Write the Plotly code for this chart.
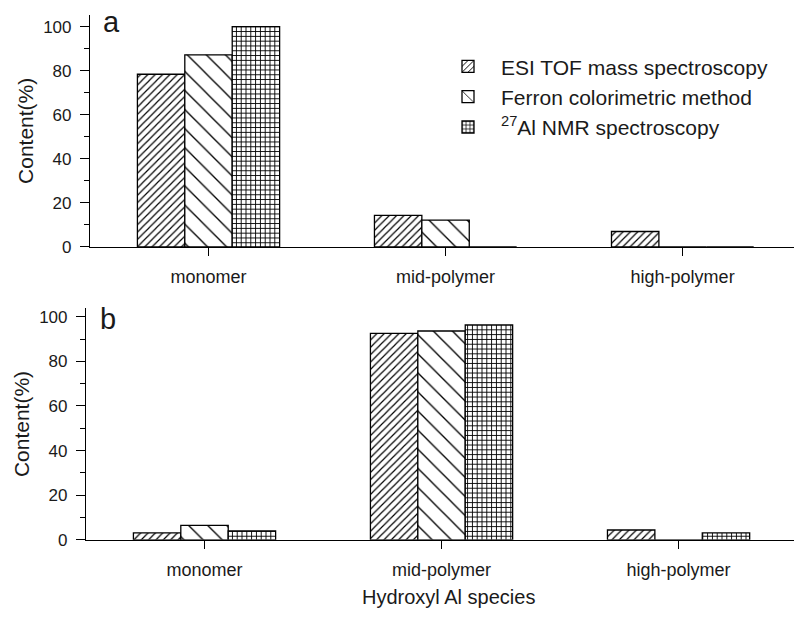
import plotly.graph_objects as go

categories = ["monomer", "mid-polymer", "high-polymer"]
methods = ["ESI TOF mass spectroscopy", "Ferron colorimetric method", "<sup>27</sup>Al NMR spectroscopy"]
a_esi = [78.4, 14.3, 7.0]
a_ferron = [87.2, 12.2, 0]
a_nmr = [100.0, 0, 0]
b_esi = [3.1, 92.5, 4.4]
b_ferron = [6.5, 93.6, 0]
b_nmr = [4.0, 96.3, 3.1]
y_ticks = [0, 20, 40, 60, 80, 100]

W, H = 794, 617
FONT = "Liberation Sans, Arial, sans-serif"
TXT = "#1a1a1a"

patterns = [
    dict(shape="/", size=5.2, solidity=0.23, fgcolor="black", bgcolor="white", fgopacity=1, fillmode="replace"),
    dict(shape="\\", size=13.5, solidity=0.1, fgcolor="black", bgcolor="white", fgopacity=1, fillmode="replace"),
    dict(shape="+", size=4.8, solidity=0.34, fgcolor="black", bgcolor="white", fgopacity=1, fillmode="replace"),
]

fig = go.Figure()
for i, (vals, name) in enumerate(zip([a_esi, a_ferron, a_nmr], methods)):
    fig.add_trace(go.Bar(x=categories, y=vals, name=name, xaxis="x", yaxis="y",
                         marker=dict(color="white", pattern=patterns[i],
                                     line=dict(color="black", width=1.3)),
                         legendgroup=str(i), showlegend=True))
for i, (vals, name) in enumerate(zip([b_esi, b_ferron, b_nmr], methods)):
    fig.add_trace(go.Bar(x=categories, y=vals, name=name, xaxis="x2", yaxis="y2",
                         marker=dict(color="white", pattern=patterns[i],
                                     line=dict(color="black", width=1.3)),
                         legendgroup=str(i), showlegend=False))

def px_x(p):
    return p / W

def px_y(p):
    return 1 - p / H

xcommon = dict(type="category", showline=True, linecolor="black", linewidth=1.2,
               ticks="outside", ticklen=8, tickcolor="black", tickwidth=1.2,
               tickfont=dict(family=FONT, size=18, color=TXT), showgrid=False,
               zeroline=False, ticklabelstandoff=5)
ycommon = dict(showline=True, linecolor="black", linewidth=1.2,
               ticks="outside", ticklen=9, tickcolor="black", tickwidth=1.2,
               tickvals=y_ticks, tickfont=dict(family=FONT, size=17, color=TXT),
               showgrid=False, zeroline=False, ticklabelstandoff=5,
               minor=dict(dtick=10, ticks="outside", ticklen=5, tickcolor="black", tickwidth=1.2),
               title=dict(text="Content(%)", font=dict(family=FONT, size=21, color=TXT), standoff=3))

fig.update_layout(
    width=W, height=H, margin=dict(l=0, r=0, t=0, b=0),
    paper_bgcolor="white", plot_bgcolor="white",
    barmode="group", bargap=0.4, bargroupgap=0,
    xaxis=dict(domain=[px_x(90), 1], anchor="y", range=[-0.5, 2.47], **xcommon),
    yaxis=dict(domain=[px_y(251), px_y(15)], anchor="x", range=[0, 105.4], **ycommon),
    xaxis2=dict(domain=[px_x(86), 1], anchor="y2", range=[-0.5, 2.487], **xcommon),
    yaxis2=dict(domain=[px_y(548.7), px_y(313.3)], anchor="x2", range=[0, 103.8], **ycommon),
    legend=dict(x=px_x(435), y=px_y(47), xanchor="left", yanchor="top",
                bgcolor="rgba(0,0,0,0)", itemwidth=56,
                font=dict(family=FONT, size=21, color=TXT), tracegroupgap=0),
    showlegend=True,
    annotations=[
        dict(text="a", x=px_x(101), y=px_y(4), xref="paper", yref="paper",
             xanchor="left", yanchor="top", showarrow=False,
             font=dict(family=FONT, size=29, color=TXT)),
        dict(text="b", x=px_x(98), y=px_y(306), xref="paper", yref="paper",
             xanchor="left", yanchor="top", showarrow=False,
             font=dict(family=FONT, size=29, color=TXT)),
        dict(text="Hydroxyl Al species", x=px_x(448), y=px_y(607), xref="paper", yref="paper",
             xanchor="center", yanchor="middle", showarrow=False,
             font=dict(family=FONT, size=20, color=TXT)),
    ],
)

fig.write_html("out.html")
